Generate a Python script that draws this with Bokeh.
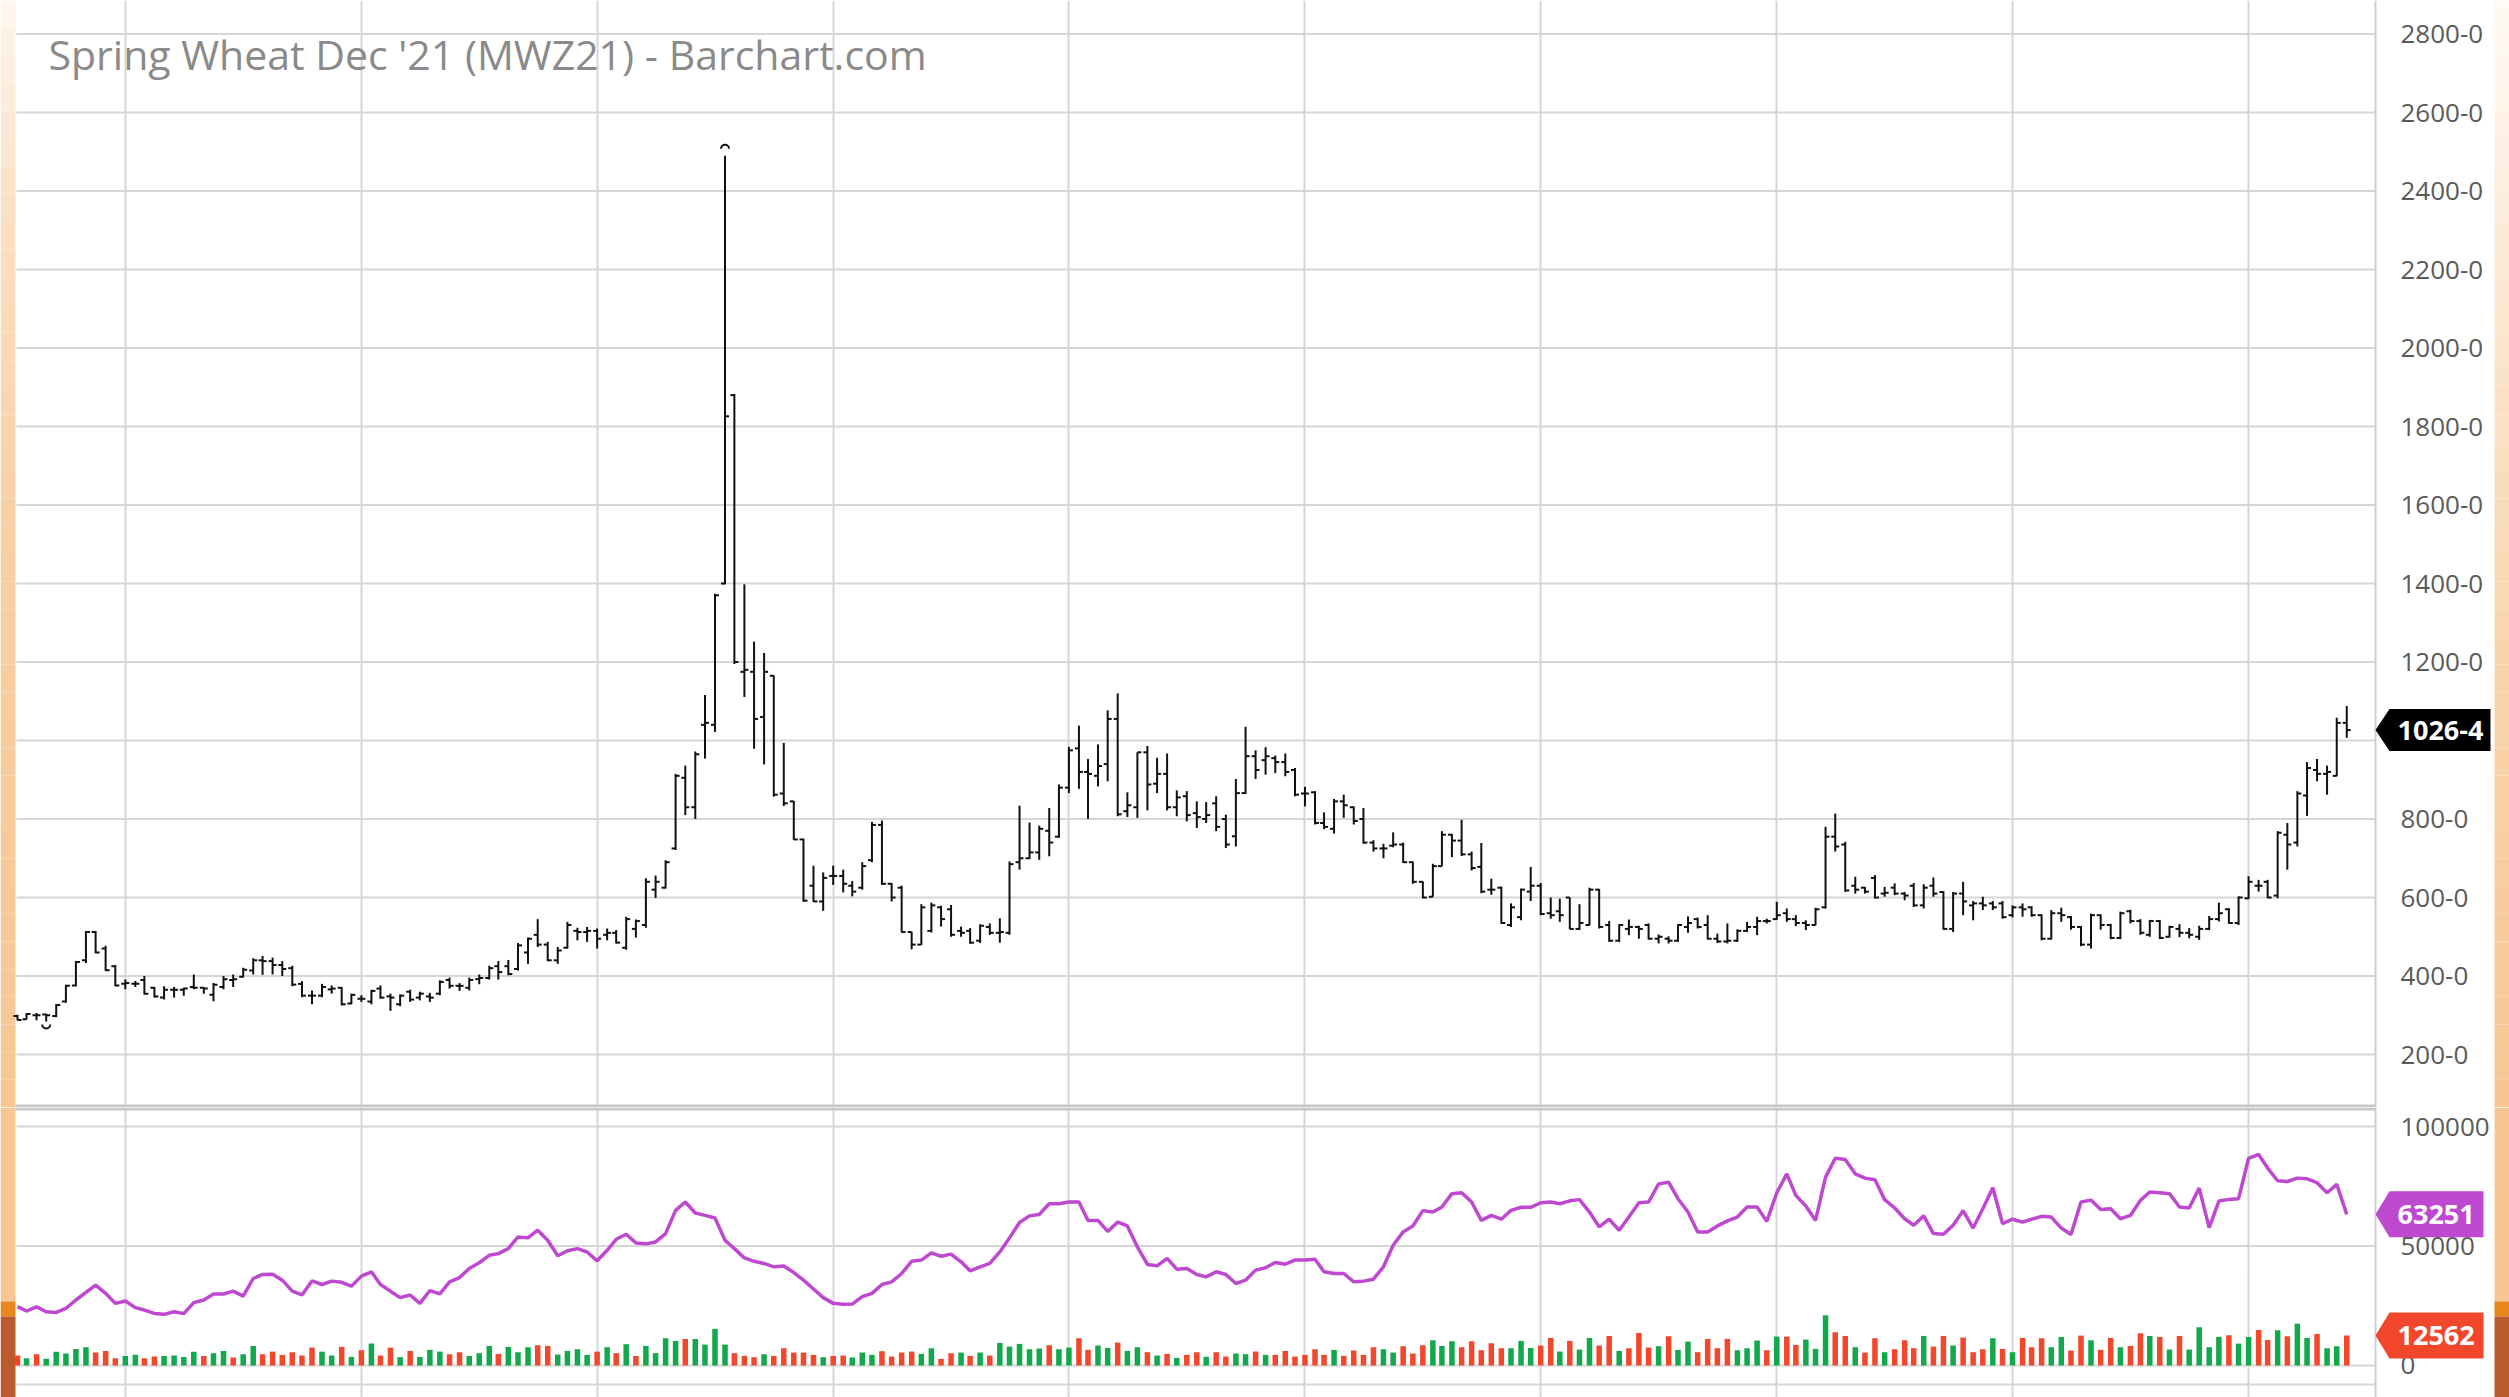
import numpy as np
import pandas as pd
from bokeh.plotting import figure
from bokeh.layouts import column
from bokeh.models import Range1d, FixedTicker, Label, ColumnDataSource
from bokeh.embed import file_html
from bokeh.resources import INLINE
from bokeh.core.properties import value

# ---------------- data (monthly bars, Feb 2002 .. Nov 2021) ----------------
title_text = "Spring Wheat Dec '21 (MWZ21) - Barchart.com"
first_month = "2002-02-01"

open_ = [298, 290, 300, 302, 298, 335, 376, 440, 512, 470, 425, 380, 380, 390, 370, 345, 365, 365, 372, 370,
         352, 372, 390, 398, 414, 440, 438, 428, 420, 380, 350, 350, 366, 370, 330, 342, 335, 368, 348, 328,
         360, 345, 348, 355, 390, 375, 370, 392, 395, 425, 425, 418, 460, 505, 480, 440, 472, 515, 512, 515,
         505, 510, 472, 520, 530, 620, 625, 725, 905, 830, 1040, 1040, 1400, 1880, 1175, 1175, 1060, 1165, 865, 845,
         748, 630, 590, 655, 655, 630, 625, 695, 785, 635, 625, 512, 480, 515, 575, 570, 515, 515, 490, 525,
         510, 510, 690, 700, 715, 770, 755, 880, 980, 920, 910, 940, 1055, 820, 830, 970, 890, 915, 830, 858,
         815, 800, 840, 800, 756, 866, 960, 950, 955, 945, 925, 865, 868, 790, 775, 845, 830, 800, 740, 725,
         732, 735, 690, 640, 602, 680, 760, 745, 710, 678, 620, 625, 530, 550, 615, 630, 560, 565, 600, 520,
         530, 620, 530, 490, 520, 525, 530, 495, 495, 490, 525, 545, 530, 495, 488, 490, 515, 525, 540, 545,
         560, 545, 535, 530, 575, 755, 735, 630, 625, 650, 610, 625, 610, 630, 580, 630, 614, 520, 610, 580,
         585, 585, 585, 555, 575, 575, 555, 495, 560, 550, 525, 480, 555, 530, 497, 565, 540, 505, 540, 500,
         520, 510, 500, 520, 545, 570, 535, 598, 630, 640, 605, 760, 740, 860, 925, 915, 910, 1045]
high = [301, 306, 306, 304, 329, 378, 438, 515, 515, 477, 428, 391, 387, 400, 372, 374, 372, 370, 404, 372,
        382, 400, 404, 421, 445, 451, 447, 438, 426, 387, 363, 380, 376, 372, 355, 351, 365, 376, 355, 353,
        365, 360, 357, 389, 396, 382, 396, 404, 426, 438, 441, 484, 498, 545, 487, 474, 538, 523, 525, 521,
        521, 517, 551, 544, 649, 656, 695, 915, 936, 972, 1116, 1374, 2490, 1883, 1398, 1252, 1223, 1166, 994, 846,
        750, 681, 664, 681, 671, 642, 690, 793, 796, 637, 630, 513, 583, 587, 579, 581, 526, 522, 532, 534,
        547, 692, 834, 791, 783, 828, 888, 984, 1038, 953, 990, 1077, 1120, 868, 970, 986, 956, 967, 873, 871,
        845, 843, 858, 811, 902, 1035, 975, 983, 962, 967, 930, 882, 871, 817, 851, 862, 832, 828, 746, 737,
        766, 740, 692, 641, 686, 769, 762, 798, 717, 739, 648, 628, 585, 623, 678, 637, 600, 597, 600, 583,
        625, 622, 540, 532, 544, 528, 534, 506, 501, 532, 552, 549, 555, 508, 534, 519, 538, 551, 546, 589,
        572, 555, 542, 574, 780, 814, 742, 653, 627, 657, 627, 636, 614, 637, 634, 651, 616, 614, 640, 591,
        602, 591, 591, 580, 585, 578, 557, 568, 574, 553, 527, 559, 557, 533, 564, 569, 545, 543, 543, 528,
        532, 522, 528, 553, 587, 573, 603, 654, 645, 645, 769, 790, 871, 945, 953, 936, 1058, 1088]
low = [287, 289, 287, 284, 295, 332, 374, 433, 458, 413, 374, 366, 372, 353, 345, 340, 345, 350, 366, 355,
       336, 366, 372, 396, 404, 403, 404, 400, 374, 346, 328, 346, 355, 325, 328, 334, 328, 342, 311, 323,
       334, 338, 334, 351, 368, 362, 363, 379, 391, 391, 402, 414, 431, 474, 438, 431, 470, 491, 487, 470,
       491, 483, 467, 498, 523, 599, 623, 721, 810, 800, 954, 1022, 1398, 1195, 1111, 979, 939, 857, 833, 747,
       589, 589, 566, 632, 613, 603, 620, 690, 632, 590, 511, 468, 479, 511, 526, 500, 500, 482, 484, 505,
       485, 505, 671, 698, 696, 705, 752, 866, 877, 800, 883, 896, 807, 805, 803, 822, 866, 822, 807, 794,
       777, 790, 769, 726, 730, 864, 902, 913, 917, 909, 858, 832, 786, 774, 763, 803, 786, 737, 717, 700,
       728, 688, 635, 598, 602, 679, 703, 706, 669, 611, 607, 533, 525, 542, 591, 555, 546, 538, 519, 517,
       529, 521, 487, 487, 504, 495, 493, 483, 483, 487, 510, 521, 493, 484, 483, 487, 512, 504, 534, 543,
       538, 527, 517, 529, 572, 717, 614, 610, 610, 597, 602, 606, 593, 576, 572, 602, 518, 512, 555, 542,
       568, 568, 546, 549, 551, 551, 491, 493, 538, 518, 476, 470, 518, 494, 494, 534, 505, 500, 494, 498,
       499, 496, 492, 517, 539, 533, 530, 596, 615, 598, 598, 671, 730, 808, 896, 862, 909, 1007]
close = [288, 303, 300, 300, 326, 375, 436, 512, 460, 415, 376, 382, 380, 355, 348, 365, 365, 368, 370, 368,
         378, 392, 392, 416, 440, 438, 428, 418, 378, 350, 350, 372, 368, 328, 352, 342, 362, 345, 345, 350,
         340, 355, 345, 385, 375, 375, 390, 395, 420, 410, 405, 478, 495, 480, 440, 465, 530, 512, 515, 495,
         510, 485, 545, 540, 640, 640, 690, 910, 830, 965, 1045, 1370, 1826, 1200, 1180, 1055, 1175, 862, 840, 748,
         592, 590, 650, 655, 635, 615, 680, 785, 635, 600, 512, 480, 575, 580, 545, 505, 510, 485, 528, 510,
         512, 685, 700, 715, 775, 740, 880, 975, 920, 915, 935, 1055, 812, 835, 970, 888, 915, 830, 855, 810,
         805, 810, 780, 735, 866, 960, 925, 960, 945, 920, 862, 865, 790, 780, 845, 835, 795, 740, 725, 725,
         735, 690, 640, 600, 680, 760, 745, 710, 675, 615, 620, 535, 575, 620, 630, 558, 555, 555, 520, 535,
         620, 525, 490, 530, 525, 520, 495, 500, 490, 530, 535, 525, 495, 488, 490, 515, 525, 540, 540, 555,
         545, 535, 530, 570, 755, 730, 618, 620, 615, 600, 612, 610, 605, 580, 625, 610, 520, 610, 590, 585,
         580, 575, 550, 575, 570, 555, 495, 560, 555, 525, 480, 555, 530, 497, 560, 540, 510, 540, 497, 525,
         510, 505, 520, 545, 560, 535, 600, 640, 630, 600, 765, 735, 865, 930, 915, 920, 1045, 1026.5]

volume = [4170, 3060, 4700, 2800, 5800, 5000, 6950, 7650, 5400, 6100, 3060, 4000, 4450, 3060, 3750, 4000, 4170, 3600, 5800, 4000,
          5150, 6100, 3340, 4700, 8200, 4700, 5800, 4450, 5550, 4170, 7500, 5800, 4170, 7800, 3600, 6400, 9200, 4170, 7500, 3470,
          6100, 3600, 6550, 5800, 4700, 5550, 4000, 5150, 8200, 4860, 7800, 5550, 7650, 8480, 8200, 4590, 6100, 6800, 4450, 5800,
          7650, 5150, 8900, 4000, 8200, 5150, 11400, 10300, 11100, 11100, 8750, 15300, 8750, 5150, 4000, 3470, 4700, 4000, 7230, 5400,
          5400, 4450, 3470, 4000, 4170, 3340, 5420, 4450, 5980, 3750, 5420, 5840, 4870, 7230, 2780, 5140, 5420, 4030, 5420, 4170,
          9450, 7920, 9040, 6810, 7090, 8480, 6810, 7510, 11400, 6530, 8340, 7370, 9590, 6120, 7650, 5560, 4170, 4870, 3200, 4450,
          5560, 3610, 5560, 3750, 5000, 4730, 5840, 4450, 4450, 6120, 3750, 4450, 6810, 4450, 6530, 4030, 6260, 4450, 7650, 6810,
          5420, 8060, 5000, 8480, 10560, 8200, 10150, 7650, 10150, 6390, 9310, 7230, 7230, 10290, 7370, 8340, 11540, 5840, 10290, 6670,
          11540, 8340, 12370, 6120, 7230, 13620, 7510, 8060, 12230, 6530, 10000, 5560, 11120, 7230, 11120, 6390, 7230, 10420, 6390, 12090,
          12090, 8620, 10840, 6950, 21000, 13900, 12370, 7650, 5420, 11400, 5560, 6810, 10560, 7230, 12370, 7920, 12370, 8340, 11680, 5560,
          6810, 11400, 6950, 5560, 11540, 7650, 11400, 7650, 11950, 6250, 12510, 10560, 6530, 11540, 7650, 8200, 13480, 12370, 11950, 6670,
          12370, 6670, 15990, 7650, 11950, 12650, 9170, 11950, 14870, 10700, 14730, 12230, 17510, 11540, 13200, 7230, 8060, 12562]
# 1 = up month (green volume), 0 = down month (red volume)
volume_up = [0, 1, 0, 1, 1, 1, 1, 1, 0, 0, 0, 1, 1, 0, 0, 1, 1, 1, 1, 0,
             1, 1, 0, 1, 1, 0, 0, 0, 0, 0, 0, 1, 1, 0, 1, 0, 1, 0, 0, 1,
             0, 1, 1, 1, 0, 0, 1, 1, 1, 0, 1, 1, 1, 0, 0, 1, 1, 1, 1, 0,
             1, 0, 1, 0, 1, 1, 1, 1, 0, 1, 1, 1, 1, 0, 0, 0, 1, 0, 0, 0,
             0, 0, 1, 0, 0, 1, 1, 1, 0, 0, 0, 0, 1, 1, 0, 0, 1, 0, 1, 0,
             1, 1, 1, 1, 1, 0, 1, 1, 0, 0, 1, 1, 0, 1, 1, 0, 1, 0, 1, 0,
             0, 1, 0, 0, 1, 1, 0, 1, 0, 0, 0, 0, 0, 0, 1, 0, 0, 0, 0, 1,
             1, 0, 0, 0, 1, 1, 1, 0, 0, 0, 0, 0, 1, 1, 1, 0, 0, 1, 0, 1,
             1, 0, 0, 1, 0, 0, 0, 1, 0, 1, 1, 0, 0, 0, 0, 1, 1, 1, 0, 1,
             0, 0, 1, 1, 1, 0, 0, 1, 0, 0, 1, 0, 0, 0, 1, 0, 0, 1, 0, 0,
             0, 1, 0, 1, 0, 0, 0, 1, 1, 0, 0, 1, 0, 0, 1, 0, 0, 1, 0, 1,
             0, 1, 1, 1, 1, 0, 1, 1, 0, 0, 1, 0, 1, 1, 0, 1, 1, 0]
open_interest = [24600, 22800, 24500, 22500, 22200, 23900, 27400, 30600, 33600, 30200, 26000, 27000, 24200, 23200, 21800, 21400, 22500, 21700, 26300, 27400,
                 29900, 29900, 31100, 29000, 36400, 38100, 38200, 35700, 31100, 29500, 35400, 33900, 35300, 34800, 33200, 37400, 39200, 33900, 31100, 28400,
                 29500, 26000, 31300, 30000, 35000, 36800, 40600, 43000, 46100, 46800, 48900, 53800, 53400, 56600, 52400, 45900, 48000, 48900, 47500, 43800,
                 48200, 52800, 54900, 51300, 50900, 51700, 55200, 64900, 68400, 63800, 62800, 61700, 52400, 48900, 45000, 43600, 42700, 41300, 41600, 38900,
                 35700, 32000, 28400, 26000, 25600, 25700, 28800, 30200, 33900, 35000, 38500, 43600, 44100, 47100, 45700, 46600, 43400, 39600, 41300, 42700,
                 47500, 53400, 59800, 62600, 63200, 67700, 67700, 68400, 68400, 60700, 60700, 56100, 60000, 58400, 49600, 42300, 41700, 44800, 40300, 40600,
                 38100, 37100, 39200, 38100, 34300, 35700, 39900, 40900, 43100, 42400, 44100, 44100, 44500, 39200, 38500, 38500, 35000, 35300, 36100, 41300,
                 50300, 55900, 58400, 64800, 64200, 66300, 71900, 72300, 68400, 60700, 62800, 61200, 64900, 66200, 66200, 68100, 68400, 67700, 68900, 69400,
                 64200, 58000, 61200, 56600, 62100, 68100, 68400, 76000, 76700, 69800, 64200, 55900, 55900, 58400, 60500, 62100, 66300, 66300, 60300, 72300,
                 80200, 71200, 66700, 60700, 78800, 86700, 86200, 80200, 78400, 77700, 69400, 65900, 61400, 58700, 62600, 55200, 54900, 58700, 64800, 57500,
                 65600, 74400, 59400, 61200, 60000, 61200, 62400, 62100, 57500, 54800, 68400, 69200, 65300, 65600, 61400, 62800, 69100, 72600, 72300, 71900,
                 66300, 65900, 74200, 57700, 68800, 69500, 69800, 86700, 88300, 82600, 77300, 77000, 78400, 78100, 76500, 72300, 75800, 63251]

price_ticks = [200, 400, 600, 800, 1000, 1200, 1400, 1600, 1800, 2000, 2200, 2400, 2600, 2800]
lower_ticks = [0, 50000, 100000]
grid_years = [2003, 2005, 2007, 2009, 2011, 2013, 2015, 2017, 2019, 2021]

# ---------------- layout / styling constants ----------------
W = 2509
PRICE_H, LOWER_H = 1107, 290
LEFT_PX, AXIS_PX = 16, 2375            # plot area left edge, price-axis line
PLOT_START = pd.Timestamp("2002-01-29")
PLOT_END = pd.Timestamp("2022-01-29")
PRICE_RANGE = (65.0, 2885.4)
LOWER_RANGE = (-13390, 107950)
LOWER_FLOOR = -8000                    # bottom border line of the lower pane

GRID = "#d6d6d6"
AXIS_LINE = "#cfcfcf"
FONT = "Open Sans"
UP = "#12a84c"
DOWN = "#f2472b"
OI_COLOR = "#bf48d0"
BAR = "#111111"
LABEL_COLOR = "#5a5a5a"

px_per_day = (AXIS_PX - LEFT_PX) / (PLOT_END - PLOT_START).days
def dx(px):
    return pd.Timedelta(days=px / px_per_day)

x_range = Range1d(PLOT_START - dx(LEFT_PX), PLOT_START + dx(W - LEFT_PX))
price_per_px = (PRICE_RANGE[1] - PRICE_RANGE[0]) / PRICE_H
lower_per_px = (LOWER_RANGE[1] - LOWER_RANGE[0]) / LOWER_H

dates = pd.date_range(first_month, periods=len(close), freq="MS")
src = ColumnDataSource(dict(
    x=dates, o=open_, h=high, l=low, c=close,
    xl=dates - dx(4), xr=dates + dx(4),
    vol=volume, oi=open_interest,
    vcol=[UP if u else DOWN for u in volume_up],
))
grid_ms = [pd.Timestamp(f"{y}-01-01").value / 1e6 for y in grid_years]

common = dict(width=W, x_range=x_range, x_axis_location=None, y_axis_location=None,
              output_backend="svg", toolbar_location=None,
              min_border_left=0, min_border_right=0, min_border_top=0, min_border_bottom=0)


def blend(stops, n):
    """decorative vertical colour ramp: stops = [(fraction_from_top, '#rrggbb'), ...]"""
    fr = np.array([s[0] for s in stops])
    rgb = np.array([[int(c[i:i + 2], 16) for i in (1, 3, 5)] for _, c in stops], float)
    out = []
    for k in range(n):
        t = (k + 0.5) / n
        out.append("#" + "".join(f"{int(round(np.interp(t, fr, rgb[:, j]))):02x}" for j in range(3)))
    return out


def strip(fig, x0, bands):
    for b, t, col in bands:
        fig.quad(left=[x0], right=[x0 + dx(15)], bottom=[b], top=[t], fill_color=col, line_color=None)


def ramp_bands(y_top, y_bottom, stops, n=40):
    cols = blend(stops, n)
    e = np.linspace(y_top, y_bottom, n + 1)
    return [(e[k + 1], e[k], cols[k]) for k in range(n)]


def h_grid(fig, levels):
    fig.segment(x0=[PLOT_START] * len(levels), x1=[PLOT_END] * len(levels), y0=levels, y1=levels,
                line_color=GRID, line_width=2)


def axis_labels(fig, levels, texts):
    fig.segment(x0=[PLOT_END], x1=[PLOT_END], y0=[fig.y_range.start], y1=[fig.y_range.end],
                line_color=AXIS_LINE, line_width=2)
    fig.text(x=[PLOT_END + dx(25)] * len(levels), y=levels, text=texts,
             text_font=value(FONT), text_font_size="26px", text_color=LABEL_COLOR,
             text_baseline="middle", text_align="left")


def badge(fig, yval, text, color, right_px, half_h):
    tip = PLOT_END
    xs = [tip, tip + dx(14), tip + dx(right_px), tip + dx(right_px), tip + dx(14)]
    ys = [yval, yval + half_h, yval + half_h, yval - half_h, yval - half_h]
    fig.patch(x=xs, y=ys, fill_color=color, line_color=None)
    fig.text(x=[tip + dx(22)], y=[yval], text=[text], text_font=value(FONT), text_font_size="27px",
             text_font_style="bold", text_color="white", text_baseline="middle", text_align="left")


LEFT_X0 = x_range.start
RIGHT_X0 = x_range.start + dx(W - 15)

# ---------------- price pane ----------------
p = figure(height=PRICE_H, y_range=Range1d(*PRICE_RANGE), **common)
p.outline_line_color = None
p.ygrid.visible = False
p.xgrid.ticker = FixedTicker(ticks=grid_ms)
p.xgrid.grid_line_color = GRID
p.xgrid.grid_line_width = 2

strip(p, LEFT_X0, ramp_bands(PRICE_RANGE[1], PRICE_RANGE[0],
                             [(0.0, "#fef6ee"), (0.2, "#fadfc2"), (0.5, "#f7cfa2"), (1.0, "#f6c792")]))
strip(p, RIGHT_X0, ramp_bands(PRICE_RANGE[1], PRICE_RANGE[0],
                              [(0.0, "#fffaf6"), (0.3, "#fbe5cd"), (0.6, "#f8d4ad"), (1.0, "#f6c792")]))
h_grid(p, price_ticks)
axis_labels(p, price_ticks, [f"{t}-0" for t in price_ticks])
# pane separator
p.segment(x0=[LEFT_X0 + dx(15)], x1=[PLOT_END], y0=[PRICE_RANGE[0] + 1.5 * price_per_px],
          y1=[PRICE_RANGE[0] + 1.5 * price_per_px], line_color="#c8c8c8", line_width=3)

p.segment("x", "l", "x", "h", source=src, line_color=BAR, line_width=2)
p.segment("xl", "o", "x", "o", source=src, line_color=BAR, line_width=2)
p.segment("x", "c", "xr", "c", source=src, line_color=BAR, line_width=2)

# swing high / low markers
i_hi = high.index(max(high))
i_lo = low.index(min(low))
p.arc(x=[dates[i_hi]], y=[high[i_hi] + 7 * price_per_px], radius=4, radius_units="screen",
      start_angle=0, end_angle=np.pi, line_color=BAR, line_width=2)
p.arc(x=[dates[i_lo]], y=[low[i_lo] - 3 * price_per_px], radius=4, radius_units="screen",
      start_angle=np.pi, end_angle=2 * np.pi, line_color=BAR, line_width=2)

last = close[-1]
badge(p, last, f"{int(last)}-{round((last % 1) * 8)}", "#000000", 115, 21 * price_per_px)

p.add_layout(Label(x=48, y=PRICE_H - 53, x_units="screen", y_units="screen", text=title_text,
                   text_font=FONT, text_font_size="41px", text_color="#8a8a8a",
                   text_baseline="middle"))

# ---------------- volume / open interest pane ----------------
q = figure(height=LOWER_H, y_range=Range1d(*LOWER_RANGE), **common)
q.outline_line_color = None
q.ygrid.visible = False
q.xgrid.ticker = FixedTicker(ticks=grid_ms)
q.xgrid.grid_line_color = GRID
q.xgrid.grid_line_width = 2

bottom_bands = [(26800, LOWER_RANGE[1], "#f6c792"), (20500, 26800, "#e8871b"),
                (LOWER_RANGE[0], 20500, "#b95b2d")]
strip(q, LEFT_X0, bottom_bands)
strip(q, RIGHT_X0, bottom_bands)
h_grid(q, lower_ticks + [LOWER_FLOOR])
axis_labels(q, lower_ticks, [str(t) for t in lower_ticks])
q.segment(x0=[LEFT_X0 + dx(15)], x1=[PLOT_END], y0=[LOWER_RANGE[1] - 1.5 * lower_per_px],
          y1=[LOWER_RANGE[1] - 1.5 * lower_per_px], line_color="#c8c8c8", line_width=3)

q.vbar(x="x", top="vol", bottom=0, width=dx(5.5), source=src,
       fill_color="vcol", line_color=None)
q.line("x", "oi", source=src, line_color=OI_COLOR, line_width=3.5)

badge(q, open_interest[-1], f"{open_interest[-1]}", OI_COLOR, 108, 23 * lower_per_px)
badge(q, volume[-1], f"{volume[-1]}", UP if volume_up[-1] else DOWN, 108, 23 * lower_per_px)

layout = column(p, q, spacing=0)
open("out.html", "w").write(file_html(layout, INLINE))
